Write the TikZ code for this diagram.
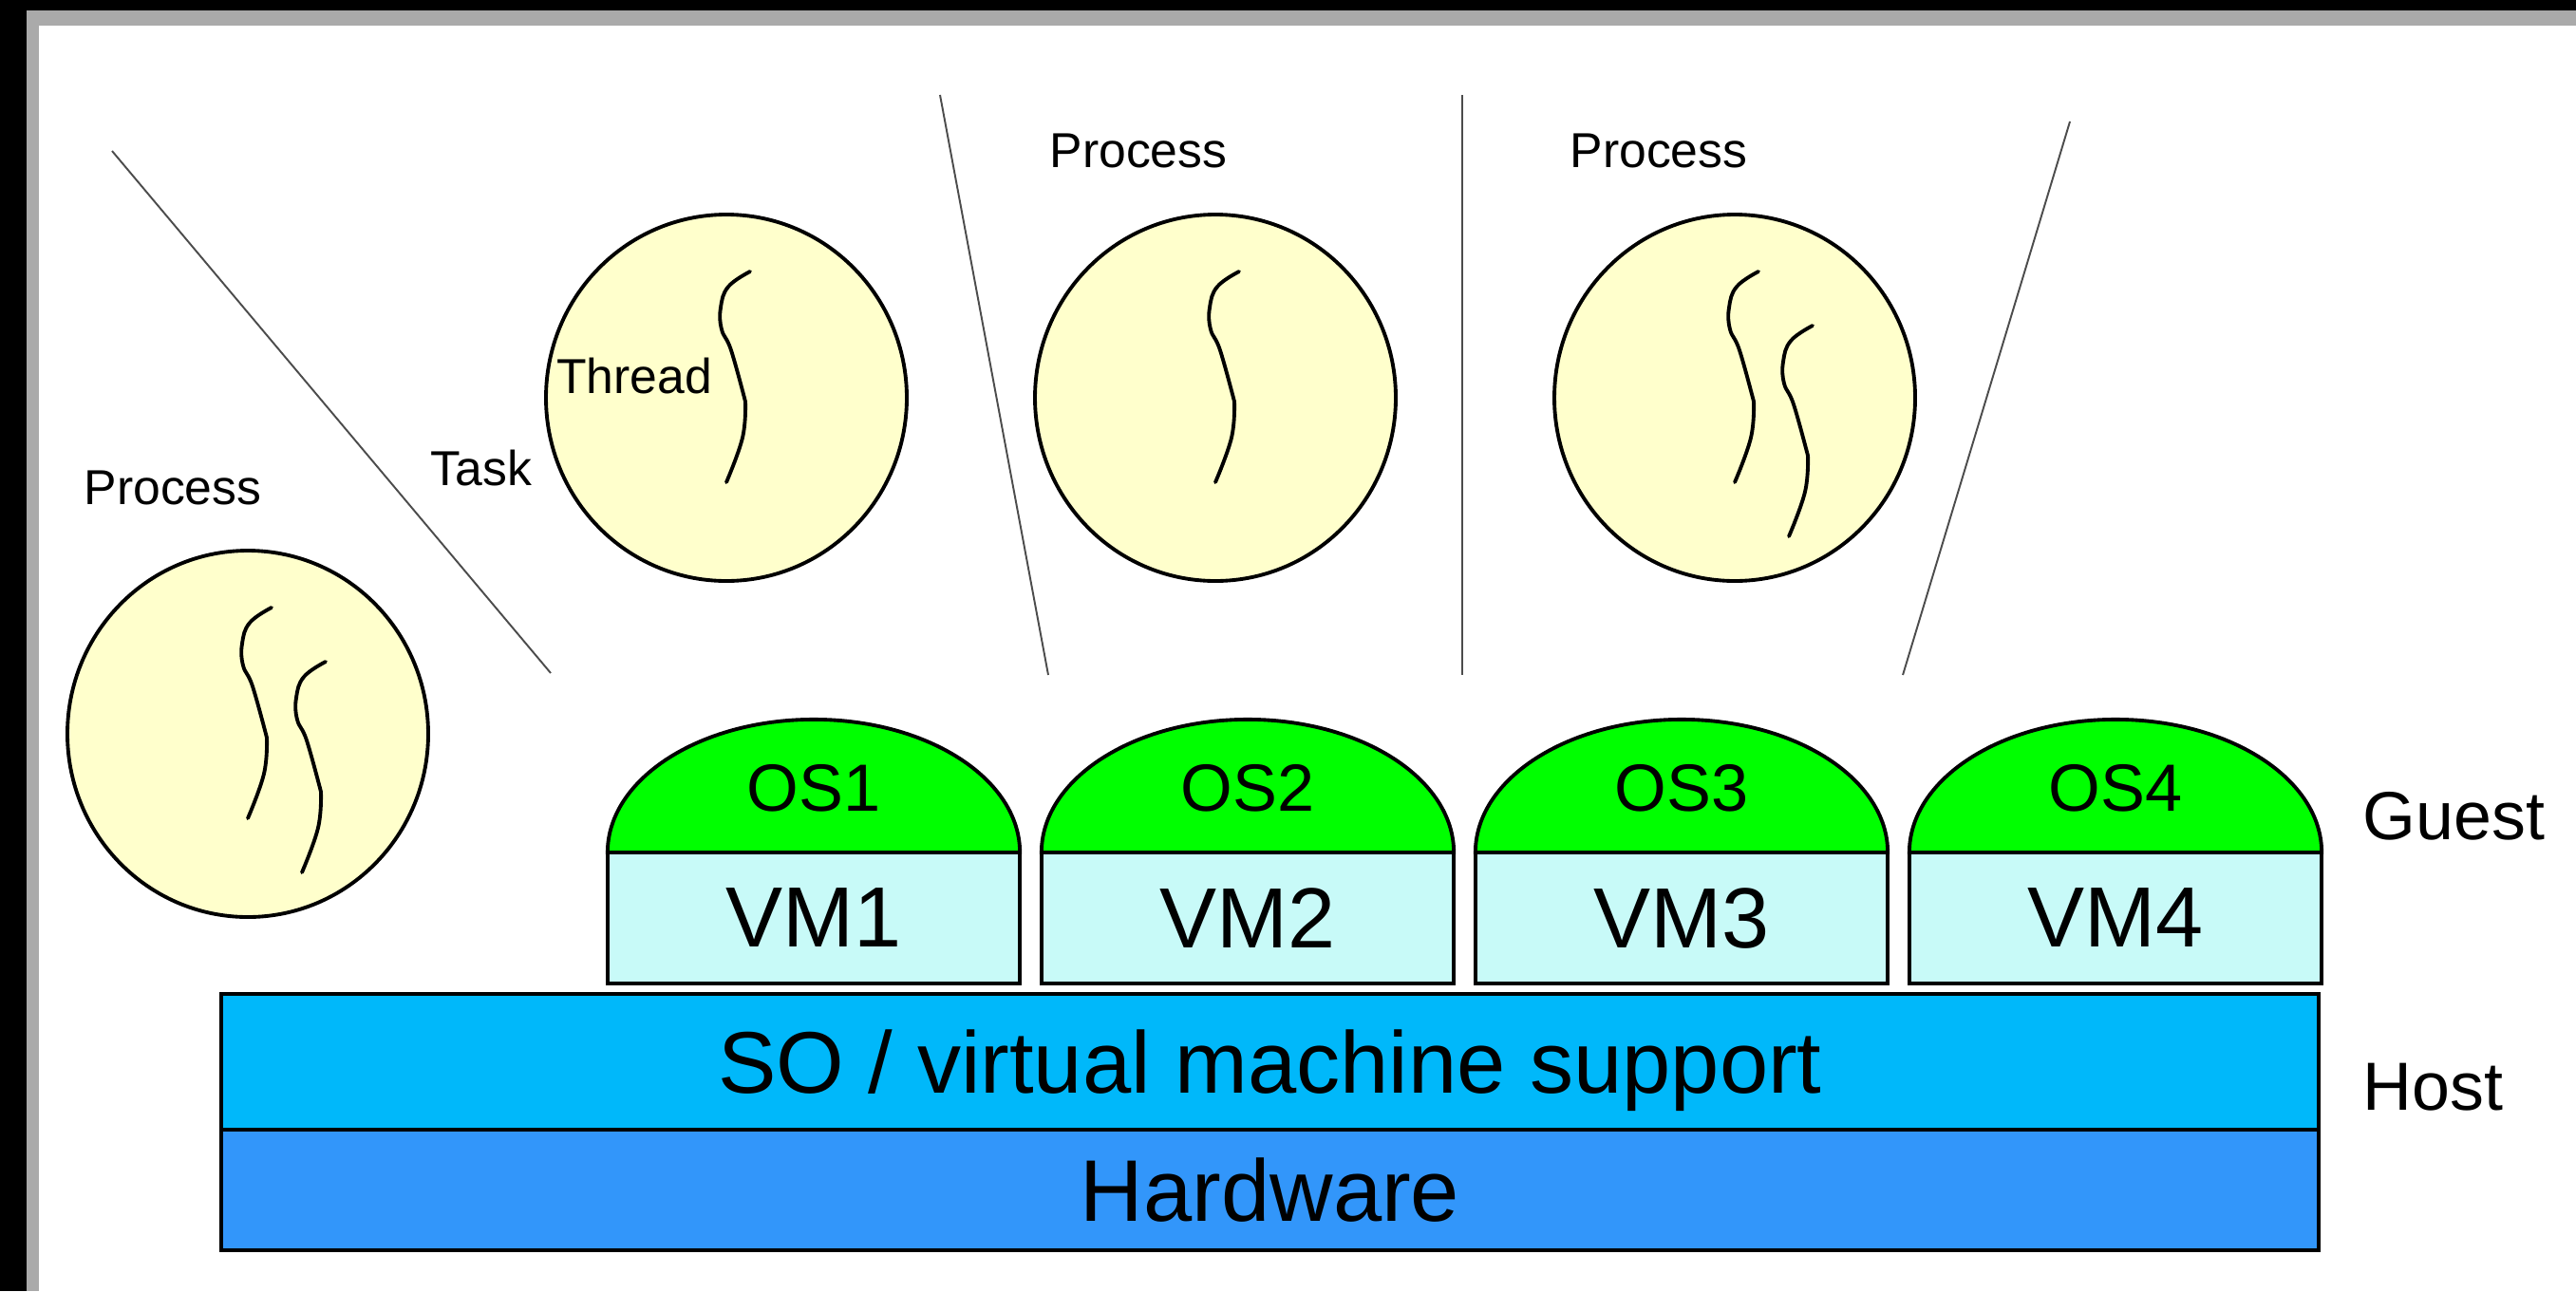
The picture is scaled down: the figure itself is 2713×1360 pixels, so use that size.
\documentclass[tikz,border=0pt]{standalone}
\usepackage{fontspec}
\setmainfont{Liberation Sans}
\usepackage{xcolor}

\definecolor{procyellow}{RGB}{255,255,204}
\definecolor{osgreen}{RGB}{0,255,0}
\definecolor{vmcyan}{RGB}{200,250,248}
\definecolor{hostblue}{RGB}{0,184,250}
\definecolor{hwblue}{RGB}{50,150,250}
\definecolor{framegray}{RGB}{170,170,170}

\tikzset{
	procball/.style={draw=black, line width=1.1pt, fill=procyellow},
	threadline/.style={draw=black, line width=1.1pt, line cap=round},
	sepline/.style={draw=black!70, line width=0.55pt},
	smalllbl/.style={font=\fontsize{14.7}{17}\selectfont, inner sep=0pt},
	sidelbl/.style={font=\fontsize{20.4}{24}\selectfont, inner sep=0pt, anchor=west},
	osdome/.style={draw=black, line width=1.1pt, fill=osgreen},
	oslbl/.style={font=\fontsize{20}{24}\selectfont, inner sep=0pt},
	vmbox/.style={draw=black, line width=1pt, fill=vmcyan, outer sep=0pt,
		minimum width=4.34cm, minimum height=1.38cm, font=\fontsize{25.6}{30}\selectfont},
	layer/.style={draw=black, line width=1.1pt, outer sep=0pt, minimum width=22.07cm,
		text depth=0pt, font=\fontsize{26.2}{30}\selectfont},
	thread/.pic={
		\draw[threadline] plot[smooth, tension=0.7] coordinates
			{(25,-133) (2,-117) (-6,-95) (-5,-72) (5,-50) (20,4)}
			-- plot[smooth, tension=0.7] coordinates {(20,4) (17,42) (0,89)};
	}
}

\begin{document}
\begin{tikzpicture}[x=0.01cm, y=-0.01cm]
	\useasboundingbox (0,0) rectangle (2713,1360);
	% window frame
	\fill[black] (0,0) rectangle (2713,11);
	\fill[black] (0,0) rectangle (28,1360);
	\fill[framegray] (28,11) rectangle (2713,27);
	\fill[framegray] (28,11) rectangle (41,1360);

	% separators
	\foreach \i/\xa/\ya/\xb/\yb in {1/118/159/580/709, 2/990/100/1104/711, 3/1540/100/1540/711, 4/2180/128/2004/711} {
		\coordinate (sep\i top) at (\xa,\ya);
		\coordinate (sep\i bot) at (\xb,\yb);
		\draw[sepline] (sep\i top) -- (sep\i bot);
	}

	% processes
	\foreach \n/\x/\y in {1/261/773, 2/765/419, 3/1280/419, 4/1827/419} {
		\coordinate (proc\n) at (\x,\y);
		\draw[procball] (proc\n) ellipse [x radius=190, y radius=193];
	}
	\pic at (proc1) {thread};
	\pic at (318,830) {thread};
	\pic at (proc2) {thread};
	\pic at (proc3) {thread};
	\pic at (proc4) {thread};
	\pic at (1884,476) {thread};

	\node[smalllbl] (proclbl1) at (182,514) {Process};
	\node[smalllbl] (tasklbl) at (507,493) {Task};
	\node[smalllbl] (threadlbl) at (668,396) {Thread};
	\node[smalllbl] (proclbl3) at (1199,159) {Process};
	\node[smalllbl] (proclbl4) at (1747,159) {Process};

	% guests
	\foreach \i/\x in {1/857, 2/1314, 3/1771, 4/2228} {
		\node[vmbox] (vm\i) at (\x,967) {VM\i};
		\draw[osdome] (vm\i.north west) arc [start angle=180, end angle=0, x radius=2.17cm, y radius=1.4cm] -- cycle;
		\node[oslbl] (os\i) at (\x,830) {OS\i};
	}

	% host
	\node[layer, fill=hostblue, minimum height=1.43cm] (host) at (1337.5,1118.5) {SO / virtual machine support};
	\node[layer, fill=hwblue, minimum height=1.27cm] (hw) at (1337.5,1253.5) {Hardware};

	\node[sidelbl] (guestlbl) at (2488,860) {Guest};
	\node[sidelbl] (hostlbl) at (2488,1145) {Host};
\end{tikzpicture}
\end{document}
